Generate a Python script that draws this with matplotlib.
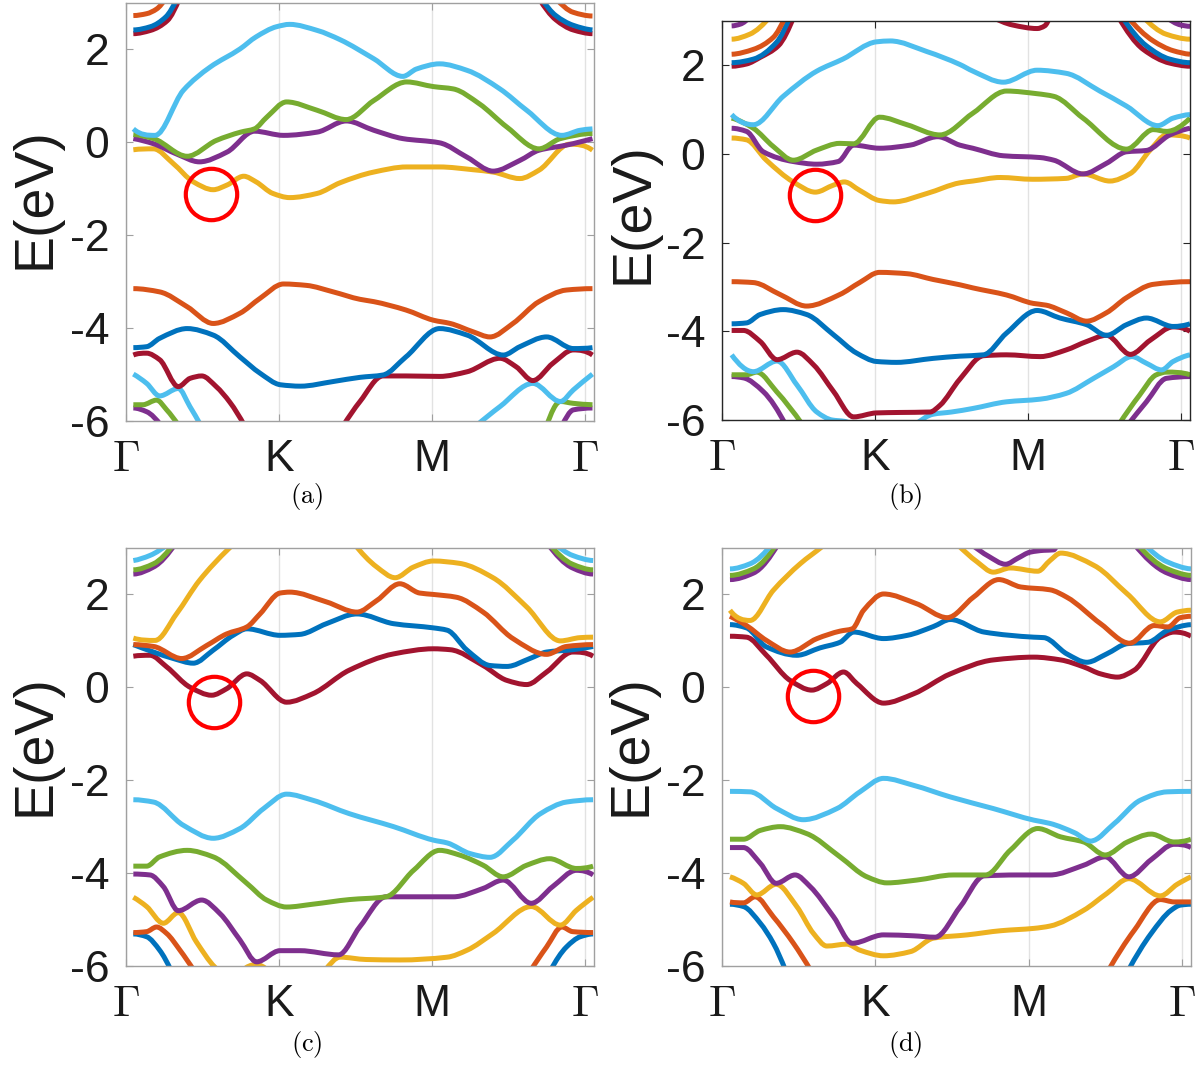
import numpy as np
import matplotlib
matplotlib.use('Agg')
import matplotlib.pyplot as plt
from matplotlib.path import Path
from matplotlib.patches import PathPatch

plt.rcParams['mathtext.fontset'] = 'cm'
plt.rcParams['font.family'] = ['Liberation Sans', 'DejaVu Sans']

COL = {'blue': '#0072BD', 'orange': '#D95319', 'yellow': '#EDB120', 'purple': '#7E2F8E',
       'green': '#77AC30', 'lblue': '#4DBEEE', 'dred': '#A2142F'}

XTICKS = [0, 1, 2, 3]
XTICKLABELS = [r'$\Gamma$', 'K', 'M', r'$\Gamma$']
YTICKS = [-6, -4, -2, 0, 2]
YTICKLABELS = ['-6', '-4', '-2', '0', '2']
CAPTIONS = ['(a)', '(b)', '(c)', '(d)']
# red circle centres (k, E)
CIRCLES = [(0.556, -1.12), (0.611, -0.93), (0.578, -0.31), (0.595, -0.19)]

# ---------------- panel (a) ----------------
a_purple_loL = [(0.048, -5.72), (0.135, -5.80), (0.23, -6.1)]
a_purple_loR = [(2.85, -6.1), (2.925, -5.76), (3.05, -5.72)]
a_green_loL = [(0.048, -5.65), (0.11, -5.65), (0.20, -5.55), (0.266, -5.76), (0.345, -6.1)]
a_green_loR = [(2.75, -6.1), (2.84, -5.58), (2.925, -5.62), (3.05, -5.65)]
a_lblue_loL = [(0.048, -4.99), (0.135, -5.19), (0.22, -5.46), (0.342, -5.30), (0.418, -5.69), (0.49, -6.1)]
a_lblue_loR = [(2.29, -6.1), (2.445, -5.69), (2.66, -5.19), (2.84, -5.58), (2.925, -5.33), (3.05, -4.99)]
a_dred_loL = [(0.048, -4.58), (0.135, -4.54), (0.22, -4.68), (0.342, -5.26), (0.42, -5.08),
              (0.495, -5.03), (0.59, -5.26), (0.68, -5.6), (0.775, -6.1)]
a_dred_loR = [(1.42, -6.1), (1.53, -5.58), (1.68, -5.03), (1.83, -5.03), (2.05, -5.04), (2.23, -4.94),
              (2.445, -4.65), (2.55, -4.83), (2.66, -5.13), (2.79, -4.76), (2.925, -4.47), (3.05, -4.58)]
a_blue_lo = [(0.048, -4.42), (0.135, -4.40), (0.22, -4.22), (0.40, -4.01), (0.57, -4.15), (0.745, -4.62),
             (0.876, -4.97), (1.01, -5.22), (1.14, -5.25), (1.355, -5.15), (1.53, -5.06), (1.68, -5.01),
             (1.83, -4.62), (2.05, -4.01), (2.23, -4.15), (2.467, -4.58), (2.575, -4.40), (2.75, -4.19),
             (2.925, -4.44), (3.05, -4.42)]
a_orange_lo = [(0.048, -3.15), (0.22, -3.22), (0.40, -3.54), (0.57, -3.90), (0.745, -3.68), (0.876, -3.36),
               (1.03, -3.05), (1.18, -3.08), (1.355, -3.22), (1.53, -3.38), (1.62, -3.43), (1.83, -3.61),
               (2.01, -3.83), (2.12, -3.90), (2.27, -4.08), (2.38, -4.19), (2.53, -3.90), (2.70, -3.43),
               (2.88, -3.18), (3.05, -3.15)]
a_yellow_up = [(0.048, -0.16), (0.18, -0.14), (0.31, -0.46), (0.44, -0.85), (0.57, -1.02), (0.66, -0.92),
               (0.77, -0.73), (0.85, -0.85), (0.96, -1.10), (1.07, -1.19), (1.25, -1.10), (1.40, -0.87),
               (1.62, -0.64), (1.835, -0.53), (2.05, -0.53), (2.27, -0.59), (2.40, -0.64), (2.575, -0.78),
               (2.70, -0.60), (2.90, -0.04), (3.05, -0.17)]
a_purple_up = [(0.048, 0.08), (0.18, -0.03), (0.33, -0.25), (0.48, -0.42), (0.66, -0.21), (0.84, 0.24),
               (1.03, 0.15), (1.25, 0.22), (1.44, 0.46), (1.62, 0.26), (1.81, 0.08), (2.05, -0.01),
               (2.23, -0.32), (2.40, -0.62), (2.575, -0.39), (2.70, -0.17), (2.88, -0.06), (3.05, 0.08)]
a_green_up = [(0.048, 0.17), (0.18, 0.08), (0.40, -0.30), (0.59, 0.04), (0.75, 0.22), (0.84, 0.29),
              (0.92, 0.54), (1.05, 0.87), (1.25, 0.69), (1.44, 0.49), (1.62, 0.90), (1.835, 1.30),
              (2.01, 1.20), (2.14, 1.15), (2.31, 0.83), (2.49, 0.33), (2.70, -0.14), (2.84, 0.08), (3.05, 0.19)]
a_lblue_up = [(0.048, 0.29), (0.19, 0.15), (0.375, 1.12), (0.55, 1.62), (0.745, 2.01), (0.85, 2.27),
              (0.985, 2.49), (1.07, 2.54), (1.25, 2.41), (1.40, 2.21), (1.62, 1.80), (1.81, 1.42),
              (1.90, 1.58), (2.05, 1.69), (2.23, 1.55), (2.445, 1.15), (2.62, 0.69), (2.85, 0.15),
              (2.97, 0.26), (3.05, 0.29)]
a_dred_arcL = [(0.048, 2.34), (0.16, 2.41), (0.27, 2.62), (0.35, 3.1)]
a_blue_arcL = [(0.048, 2.42), (0.16, 2.49), (0.26, 2.70), (0.335, 3.1)]
a_orange_arcL = [(0.048, 2.73), (0.135, 2.77), (0.20, 2.87), (0.26, 3.1)]
a_dred_arcR = [(2.70, 3.1), (2.81, 2.64), (2.924, 2.42), (3.05, 2.34)]
a_blue_arcR = [(2.715, 3.1), (2.81, 2.73), (2.924, 2.52), (3.05, 2.42)]
a_orange_arcR = [(2.81, 3.1), (2.924, 2.80), (3.05, 2.72)]

PANEL_A = [('purple', a_purple_loL), ('purple', a_purple_loR), ('green', a_green_loL), ('green', a_green_loR),
           ('lblue', a_lblue_loL), ('lblue', a_lblue_loR), ('dred', a_dred_loL), ('dred', a_dred_loR),
           ('blue', a_blue_lo), ('orange', a_orange_lo), ('yellow', a_yellow_up), ('purple', a_purple_up),
           ('green', a_green_up), ('lblue', a_lblue_up), ('dred', a_dred_arcL), ('dred', a_dred_arcR),
           ('blue', a_blue_arcL), ('blue', a_blue_arcR), ('orange', a_orange_arcL), ('orange', a_orange_arcR)]

# ---------------- panel (b) ----------------
b_purple_loL = [(0.063, -5.02), (0.14, -5.05), (0.27, -5.36), (0.415, -6.1)]
b_purple_loR = [(2.655, -6.1), (2.775, -5.59), (2.906, -5.06), (3.06, -5.02)]
b_green_loL = [(0.063, -4.98), (0.16, -4.98), (0.227, -4.92), (0.357, -5.36), (0.525, -6.1)]
b_green_loR = [(2.595, -6.1), (2.73, -5.44), (2.84, -4.98), (2.906, -4.92), (3.06, -4.98)]
b_lblue_loL = [(0.063, -4.53), (0.205, -4.91), (0.36, -4.67), (0.49, -5.21), (0.62, -5.82), (0.72, -6.0),
               (0.80, -6.03), (0.88, -6.15)]
b_lblue_loR = [(1.26, -6.12), (1.38, -5.87), (1.50, -5.82), (1.64, -5.74), (1.86, -5.59), (2.08, -5.53),
               (2.25, -5.40), (2.43, -5.06), (2.56, -4.80), (2.68, -4.57), (2.775, -4.72), (2.874, -4.87),
               (2.95, -4.68), (3.06, -4.53)]
b_dred_lo = [(0.063, -3.98), (0.14, -3.98), (0.25, -4.23), (0.36, -4.64), (0.49, -4.47), (0.60, -4.76),
             (0.73, -5.36), (0.86, -5.93), (1.01, -5.84), (1.16, -5.83), (1.36, -5.82), (1.425, -5.67),
             (1.555, -5.08), (1.71, -4.55), (1.86, -4.53), (2.08, -4.57), (2.25, -4.42), (2.384, -4.23),
             (2.514, -4.09), (2.67, -4.52), (2.80, -4.20), (2.95, -3.90), (3.06, -4.00)]
b_blue_lo = [(0.063, -3.83), (0.16, -3.81), (0.25, -3.62), (0.40, -3.51), (0.553, -3.62), (0.73, -4.08),
             (0.88, -4.49), (1.01, -4.68), (1.14, -4.70), (1.38, -4.61), (1.555, -4.56), (1.71, -4.53),
             (1.86, -4.04), (2.06, -3.53), (2.21, -3.70), (2.384, -3.85), (2.514, -4.09), (2.645, -3.85),
             (2.775, -3.70), (2.95, -3.89), (3.06, -3.83)]
b_orange_lo = [(0.063, -2.88), (0.205, -2.90), (0.38, -3.17), (0.553, -3.43), (0.77, -3.17), (0.90, -2.90),
               (1.03, -2.67), (1.21, -2.70), (1.38, -2.83), (1.555, -2.95), (1.64, -3.02), (1.86, -3.18),
               (2.035, -3.37), (2.12, -3.41), (2.25, -3.58), (2.384, -3.77), (2.514, -3.58), (2.645, -3.24),
               (2.82, -2.94), (3.06, -2.88)]
b_yellow_up = [(0.063, 0.36), (0.16, 0.32), (0.29, -0.14), (0.466, -0.63), (0.61, -0.86), (0.73, -0.70),
               (0.80, -0.63), (0.90, -0.82), (1.03, -1.05), (1.12, -1.08), (1.34, -0.89), (1.555, -0.65),
               (1.64, -0.61), (1.82, -0.53), (2.03, -0.57), (2.25, -0.55), (2.36, -0.45), (2.536, -0.61),
               (2.67, -0.44), (2.80, 0.09), (2.906, 0.43), (3.06, 0.36)]
b_purple_up = [(0.063, 0.58), (0.16, 0.51), (0.27, 0.05), (0.466, -0.17), (0.62, -0.23), (0.76, -0.17),
               (0.86, 0.20), (1.03, 0.13), (1.23, 0.20), (1.41, 0.39), (1.555, 0.20), (1.64, 0.13),
               (1.84, -0.04), (2.08, -0.08), (2.17, -0.14), (2.36, -0.45), (2.514, -0.21), (2.645, 0.05),
               (2.775, 0.08), (2.928, 0.43), (3.06, 0.58)]
b_green_up = [(0.063, 0.81), (0.205, 0.58), (0.335, 0.17), (0.466, -0.14), (0.62, 0.09), (0.77, 0.24),
              (0.86, 0.23), (1.03, 0.83), (1.21, 0.66), (1.425, 0.43), (1.64, 0.92), (1.86, 1.42),
              (2.06, 1.36), (2.17, 1.30), (2.36, 0.81), (2.645, 0.11), (2.82, 0.55), (2.906, 0.51), (3.06, 0.81)]
b_lblue_up = [(0.063, 0.89), (0.205, 0.66), (0.40, 1.30), (0.62, 1.87), (0.79, 2.14), (1.01, 2.53),
              (1.10, 2.55), (1.34, 2.31), (1.555, 2.02), (1.64, 1.87), (1.84, 1.62), (2.06, 1.89),
              (2.25, 1.82), (2.47, 1.42), (2.645, 1.08), (2.85, 0.64), (2.95, 0.81), (3.06, 0.89)]
b_dred_arcL = [(0.063, 1.98), (0.16, 2.03), (0.25, 2.18), (0.368, 2.44), (0.47, 3.1)]
b_blue_arcL = [(0.063, 2.06), (0.205, 2.14), (0.357, 2.52), (0.445, 3.1)]
b_orange_arcL = [(0.063, 2.25), (0.205, 2.36), (0.335, 2.63), (0.415, 3.1)]
b_yellow_arcL = [(0.063, 2.59), (0.18, 2.70), (0.315, 3.1)]
b_purple_arcL = [(0.063, 2.89), (0.12, 2.93), (0.185, 3.1)]
b_dred_arcR = [(2.59, 3.1), (2.754, 2.36), (2.928, 2.05), (3.06, 1.98)]
b_blue_arcR = [(2.615, 3.1), (2.775, 2.44), (2.928, 2.14), (3.06, 2.06)]
b_orange_arcR = [(2.65, 3.1), (2.82, 2.55), (2.95, 2.33), (3.06, 2.25)]
b_yellow_arcR = [(2.75, 3.1), (2.906, 2.70), (3.06, 2.59)]
b_purple_arcR = [(2.90, 3.1), (3.0, 2.91), (3.06, 2.88)]
b_dred_M = [(1.76, 3.1), (1.90, 2.91), (2.06, 2.83), (2.11, 2.89), (2.145, 3.1)]

PANEL_B = [('purple', b_purple_loL), ('purple', b_purple_loR), ('green', b_green_loL), ('green', b_green_loR),
           ('lblue', b_lblue_loL), ('lblue', b_lblue_loR), ('dred', b_dred_lo), ('blue', b_blue_lo),
           ('orange', b_orange_lo), ('yellow', b_yellow_up), ('purple', b_purple_up), ('green', b_green_up),
           ('lblue', b_lblue_up), ('dred', b_dred_arcL), ('dred', b_dred_arcR), ('dred', b_dred_M),
           ('blue', b_blue_arcL), ('blue', b_blue_arcR), ('orange', b_orange_arcL), ('orange', b_orange_arcR),
           ('yellow', b_yellow_arcL), ('yellow', b_yellow_arcR), ('purple', b_purple_arcL), ('purple', b_purple_arcR)]

# ---------------- panel (c) ----------------
c_blue_loL = [(0.048, -5.31), (0.135, -5.37), (0.22, -5.66), (0.295, -6.1)]
c_blue_loR = [(2.775, -6.1), (2.88, -5.59), (2.97, -5.37), (3.054, -5.31)]
c_orange_loL = [(0.048, -5.28), (0.135, -5.26), (0.20, -5.16), (0.266, -5.30), (0.353, -5.66), (0.445, -6.1)]
c_orange_loR = [(2.645, -6.1), (2.75, -5.59), (2.85, -5.16), (2.92, -5.26), (3.054, -5.28)]
c_yellow_loL = [(0.048, -4.52), (0.135, -4.72), (0.244, -5.08), (0.342, -4.85), (0.46, -5.48), (0.58, -6.02),
                (0.65, -6.2)]
c_yellow_loK = [(0.76, -6.1), (0.85, -5.97), (0.93, -6.1)]
c_yellow_loR = [(1.30, -6.1), (1.40, -5.81), (1.57, -5.86), (1.79, -5.87), (2.10, -5.81), (2.23, -5.66),
                (2.40, -5.30), (2.65, -4.72), (2.84, -5.12), (2.945, -4.80), (3.054, -4.52)]
c_purple_lo = [(0.048, -4.02), (0.157, -4.04), (0.244, -4.29), (0.342, -4.81), (0.495, -4.58), (0.614, -4.87),
               (0.745, -5.44), (0.854, -5.91), (1.007, -5.67), (1.137, -5.67), (1.39, -5.76), (1.53, -5.15),
               (1.70, -4.51), (1.90, -4.51), (2.14, -4.51), (2.335, -4.33), (2.466, -4.15), (2.65, -4.65),
               (2.79, -4.29), (2.945, -3.94), (3.054, -4.04)]
c_green_lo = [(0.048, -3.85), (0.135, -3.85), (0.22, -3.65), (0.40, -3.51), (0.57, -3.65), (0.79, -4.22),
              (0.92, -4.58), (1.05, -4.73), (1.22, -4.67), (1.46, -4.57), (1.70, -4.51), (1.88, -3.94),
              (2.05, -3.51), (2.18, -3.61), (2.335, -3.83), (2.466, -4.08), (2.62, -3.83), (2.77, -3.69),
              (2.945, -3.90), (3.054, -3.85)]
c_lblue_lo = [(0.048, -2.42), (0.18, -2.47), (0.375, -2.97), (0.57, -3.25), (0.745, -3.04), (0.90, -2.61),
              (1.05, -2.30), (1.22, -2.43), (1.46, -2.72), (1.75, -3.00), (2.01, -3.29), (2.10, -3.35),
              (2.25, -3.58), (2.38, -3.66), (2.53, -3.29), (2.71, -2.72), (2.88, -2.47), (3.054, -2.42)]
c_dred_up = [(0.048, 0.67), (0.157, 0.69), (0.266, 0.44), (0.42, 0.0), (0.56, -0.17), (0.658, -0.03),
             (0.79, 0.29), (0.876, 0.15), (1.05, -0.32), (1.22, -0.14), (1.46, 0.37), (1.75, 0.72),
             (2.01, 0.83), (2.12, 0.81), (2.335, 0.47), (2.49, 0.15), (2.62, 0.06), (2.75, 0.33),
             (2.92, 0.76), (3.054, 0.67)]
c_blue_up = [(0.048, 0.92), (0.18, 0.76), (0.31, 0.62), (0.44, 0.52), (0.57, 0.80), (0.70, 1.12), (0.79, 1.26),
             (1.007, 1.12), (1.137, 1.14), (1.31, 1.37), (1.51, 1.58), (1.75, 1.37), (2.01, 1.28), (2.10, 1.23),
             (2.23, 0.80), (2.38, 0.47), (2.49, 0.45), (2.64, 0.62), (2.75, 0.76), (2.92, 0.81), (3.054, 0.88)]
c_orange_up = [(0.048, 0.92), (0.18, 0.88), (0.364, 0.62), (0.527, 0.90), (0.658, 1.15), (0.79, 1.30),
               (0.876, 1.58), (1.007, 2.03), (1.07, 2.05), (1.31, 1.84), (1.51, 1.62), (1.64, 1.87),
               (1.79, 2.23), (1.92, 2.03), (2.01, 2.0), (2.16, 1.94), (2.335, 1.62), (2.53, 1.05),
               (2.75, 0.71), (2.88, 0.88), (3.054, 0.92)]
c_yellow_upL = [(0.048, 1.06), (0.19, 1.01), (0.33, 1.58), (0.48, 2.30), (0.67, 2.98), (0.71, 3.1)]
c_yellow_upR = [(1.49, 3.1), (1.64, 2.59), (1.76, 2.36), (1.88, 2.59), (2.01, 2.72), (2.18, 2.67), (2.40, 2.36),
                (2.62, 1.73), (2.84, 1.0), (2.97, 1.07), (3.054, 1.08)]
c_purple_arcL = [(0.048, 2.44), (0.18, 2.59), (0.325, 3.1)]
c_green_arcL = [(0.048, 2.53), (0.18, 2.66), (0.315, 3.1)]
c_lblue_arcL = [(0.048, 2.73), (0.157, 2.84), (0.28, 3.1)]
c_purple_arcR = [(2.755, 3.1), (2.92, 2.57), (3.054, 2.44)]
c_green_arcR = [(2.765, 3.1), (2.92, 2.65), (3.054, 2.53)]
c_lblue_arcR = [(2.80, 3.1), (2.92, 2.84), (3.054, 2.73)]

PANEL_C = [('blue', c_blue_loL), ('blue', c_blue_loR), ('orange', c_orange_loL), ('orange', c_orange_loR),
           ('yellow', c_yellow_loL), ('yellow', c_yellow_loK), ('yellow', c_yellow_loR), ('purple', c_purple_lo),
           ('green', c_green_lo), ('lblue', c_lblue_lo), ('dred', c_dred_up), ('blue', c_blue_up),
           ('orange', c_orange_up), ('yellow', c_yellow_upL), ('yellow', c_yellow_upR),
           ('purple', c_purple_arcL), ('purple', c_purple_arcR), ('green', c_green_arcL), ('green', c_green_arcR),
           ('lblue', c_lblue_arcL), ('lblue', c_lblue_arcR)]

# ---------------- panel (d) ----------------
d_blue_loL = [(0.052, -4.67), (0.14, -4.72), (0.25, -5.08), (0.335, -5.51), (0.415, -6.1)]
d_blue_loR = [(2.65, -6.1), (2.80, -5.30), (2.93, -4.80), (2.99, -4.69), (3.06, -4.67)]
d_orange_loL = [(0.052, -4.62), (0.14, -4.64), (0.216, -4.51), (0.335, -4.94), (0.466, -5.51), (0.58, -6.1)]
d_orange_loR = [(2.52, -6.1), (2.69, -5.23), (2.86, -4.57), (2.95, -4.62), (3.06, -4.62)]
d_yellow_lo = [(0.052, -4.08), (0.14, -4.22), (0.227, -4.47), (0.353, -4.24), (0.488, -4.72), (0.597, -5.30),
               (0.684, -5.57), (0.815, -5.53), (0.90, -5.66), (1.054, -5.78), (1.23, -5.69), (1.38, -5.40),
               (1.60, -5.33), (1.82, -5.24), (2.035, -5.19), (2.14, -5.14), (2.36, -4.80), (2.51, -4.44),
               (2.655, -4.12), (2.86, -4.49), (2.97, -4.24), (3.06, -4.08)]
d_purple_lo = [(0.052, -3.45), (0.14, -3.45), (0.25, -3.79), (0.353, -4.22), (0.477, -4.04), (0.575, -4.29),
               (0.728, -4.94), (0.85, -5.51), (1.054, -5.33), (1.25, -5.35), (1.39, -5.38), (1.555, -4.72),
               (1.71, -4.06), (1.926, -4.04), (2.14, -4.04), (2.36, -3.83), (2.50, -3.65), (2.655, -4.08),
               (2.80, -3.71), (2.95, -3.38), (3.06, -3.45)]
d_green_lo = [(0.052, -3.27), (0.14, -3.27), (0.25, -3.08), (0.38, -3.00), (0.553, -3.15), (0.77, -3.65),
              (0.946, -4.08), (1.076, -4.21), (1.27, -4.15), (1.51, -4.04), (1.72, -4.04), (1.88, -3.51),
              (2.06, -3.04), (2.21, -3.22), (2.36, -3.33), (2.50, -3.61), (2.645, -3.33), (2.80, -3.16),
              (2.95, -3.33), (3.06, -3.27)]
d_lblue_lo = [(0.052, -2.24), (0.183, -2.25), (0.357, -2.61), (0.53, -2.85), (0.75, -2.61), (0.90, -2.25),
              (1.054, -1.96), (1.25, -2.11), (1.49, -2.36), (1.77, -2.61), (2.035, -2.86), (2.14, -2.93),
              (2.30, -3.13), (2.405, -3.31), (2.56, -2.93), (2.73, -2.43), (2.906, -2.25), (3.06, -2.24)]
d_dred_up = [(0.052, 1.10), (0.16, 1.08), (0.29, 0.69), (0.444, 0.15), (0.586, -0.06), (0.684, 0.08),
             (0.793, 0.33), (0.88, 0.08), (1.054, -0.34), (1.25, -0.14), (1.49, 0.29), (1.77, 0.59),
             (2.035, 0.65), (2.21, 0.59), (2.36, 0.44), (2.47, 0.29), (2.58, 0.22), (2.69, 0.37),
             (2.86, 1.08), (2.95, 1.19), (3.06, 1.10)]
d_blue_up = [(0.052, 1.35), (0.16, 1.28), (0.29, 0.87), (0.488, 0.69), (0.64, 0.85), (0.77, 0.97), (0.86, 1.19),
             (1.054, 1.05), (1.21, 1.12), (1.38, 1.31), (1.49, 1.46), (1.71, 1.19), (2.035, 1.08), (2.10, 1.07),
             (2.25, 0.72), (2.38, 0.54), (2.51, 0.72), (2.645, 0.94), (2.78, 0.97), (2.91, 1.23), (3.06, 1.35)]
d_orange_up = [(0.052, 1.53), (0.16, 1.33), (0.29, 1.01), (0.444, 0.76), (0.62, 1.05), (0.77, 1.21),
               (0.85, 1.26), (0.924, 1.66), (1.054, 2.01), (1.27, 1.80), (1.47, 1.50), (1.64, 1.94),
               (1.806, 2.32), (1.95, 2.16), (2.14, 2.10), (2.25, 1.94), (2.47, 1.37), (2.66, 0.95),
               (2.82, 1.33), (2.91, 1.30), (2.99, 1.50), (3.06, 1.53)]
d_yellow_upL = [(0.052, 1.66), (0.183, 1.44), (0.335, 2.09), (0.51, 2.66), (0.65, 3.02), (0.68, 3.1)]
d_yellow_upR = [(1.53, 3.1), (1.665, 2.70), (1.77, 2.48), (1.88, 2.57), (2.06, 2.50), (2.14, 2.73),
                (2.21, 2.89), (2.43, 2.62), (2.645, 2.01), (2.86, 1.41), (2.97, 1.62), (3.06, 1.66)]
d_purple_M = [(1.62, 3.1), (1.74, 2.82), (1.85, 2.65), (1.93, 2.78), (2.01, 2.91), (2.10, 2.95),
              (2.165, 2.96), (2.19, 3.1)]
d_purple_arcL = [(0.052, 2.32), (0.205, 2.46), (0.37, 3.1)]
d_green_arcL = [(0.052, 2.41), (0.205, 2.55), (0.36, 3.1)]
d_lblue_arcL = [(0.052, 2.55), (0.183, 2.66), (0.33, 3.1)]
d_purple_arcR = [(2.685, 3.1), (2.906, 2.46), (3.06, 2.32)]
d_green_arcR = [(2.705, 3.1), (2.906, 2.55), (3.06, 2.41)]
d_lblue_arcR = [(2.75, 3.1), (2.906, 2.70), (3.06, 2.55)]

PANEL_D = [('blue', d_blue_loL), ('blue', d_blue_loR), ('orange', d_orange_loL), ('orange', d_orange_loR),
           ('yellow', d_yellow_lo), ('purple', d_purple_lo), ('green', d_green_lo), ('lblue', d_lblue_lo),
           ('dred', d_dred_up), ('blue', d_blue_up), ('orange', d_orange_up), ('yellow', d_yellow_upL),
           ('yellow', d_yellow_upR), ('purple', d_purple_M), ('purple', d_purple_arcL), ('purple', d_purple_arcR),
           ('green', d_green_arcL), ('green', d_green_arcR), ('lblue', d_lblue_arcL), ('lblue', d_lblue_arcR)]


def _edge(h0, h1, m0, m1):
    d = ((2 * h0 + h1) * m0 - h0 * m1) / (h0 + h1)
    if np.sign(d) != np.sign(m0):
        d = 0.0
    elif np.sign(m0) != np.sign(m1) and abs(d) > abs(3 * m0):
        d = 3 * m0
    return d


def smooth_path(pts):
    """Monotone cubic (PCHIP-style) Bezier path through the read points."""
    x = np.array([p[0] for p in pts], float)
    y = np.array([p[1] for p in pts], float)
    n = len(x)
    h = np.diff(x)
    d = np.diff(y) / h
    m = np.zeros(n)
    if n == 2:
        m[:] = d[0]
    else:
        for i in range(1, n - 1):
            if d[i - 1] * d[i] <= 0:
                m[i] = 0.0
            else:
                w1 = 2 * h[i] + h[i - 1]
                w2 = h[i] + 2 * h[i - 1]
                m[i] = (w1 + w2) / (w1 / d[i - 1] + w2 / d[i])
        m[0] = _edge(h[0], h[1], d[0], d[1])
        m[-1] = _edge(h[-1], h[-2], d[-1], d[-2])
    verts = [(x[0], y[0])]
    codes = [Path.MOVETO]
    for i in range(n - 1):
        verts += [(x[i] + h[i] / 3, y[i] + m[i] * h[i] / 3),
                  (x[i + 1] - h[i] / 3, y[i + 1] - m[i + 1] * h[i] / 3),
                  (x[i + 1], y[i + 1])]
        codes += [Path.CURVE4] * 3
    return Path(verts, codes)


W, H = 1198, 1065
fig = plt.figure(figsize=(W / 100, H / 100), dpi=100)

# axes boxes in pixels: left, top, right, bottom
BOXES = [(126, 3, 594, 421), (722, 21, 1190, 420), (126, 548, 594, 966), (722, 548, 1191, 966)]
PANELS = [PANEL_A, PANEL_B, PANEL_C, PANEL_D]
SPINE = ['#a0a0a0', '#262626', '#a0a0a0', '#a0a0a0']
YLAB_POS = [(35, 198), (633, 213), (35, 745), (632, 745)]
CAP_POS = [(307, 497), (905, 497), (307, 1045), (905, 1045)]

for idx in range(4):
    l, t, r, b = BOXES[idx]
    ax = fig.add_axes([l / W, 1 - b / H, (r - l) / W, (b - t) / H])
    ax.set_xlim(0, 3.06)
    ax.set_ylim(-6, 3)
    ax.set_xticks(XTICKS)
    ax.set_xticklabels(XTICKLABELS)
    ax.set_yticks(YTICKS)
    ax.set_yticklabels(YTICKLABELS)
    ax.tick_params(direction='in', top=True, right=True, length=5, width=0.8,
                   color=SPINE[idx], labelcolor='#1a1a1a', labelsize=32)
    ax.tick_params(axis='y', pad=12)
    ax.tick_params(axis='x', pad=13)
    for s in ax.spines.values():
        s.set_color(SPINE[idx])
        s.set_linewidth(1.0)
    ax.grid(axis='x', color='#e2e2e2', lw=1.0)
    ax.set_axisbelow(True)
    for i, (cname, pts) in enumerate(PANELS[idx]):
        patch = PathPatch(smooth_path(pts), fill=False, edgecolor=COL[cname], lw=3.6,
                          capstyle='butt', joinstyle='round', zorder=2 + i * 0.01)
        ax.add_patch(patch)
    cx, cy = CIRCLES[idx]
    ax.plot([cx], [cy], marker='o', ms=37, mfc='none', mec='#ff0000', mew=3.0, zorder=5)
    yx, yy = YLAB_POS[idx]
    fig.text(yx / W, 1 - yy / H, 'E(eV)', rotation=90, ha='center', va='center', fontsize=40, color='#1a1a1a')
    px, py = CAP_POS[idx]
    fig.text(px / W, 1 - py / H, r'$\mathrm{' + CAPTIONS[idx] + '}$', ha='center', va='center',
             fontsize=19, color='black')

fig.savefig('out.png', dpi=100)
